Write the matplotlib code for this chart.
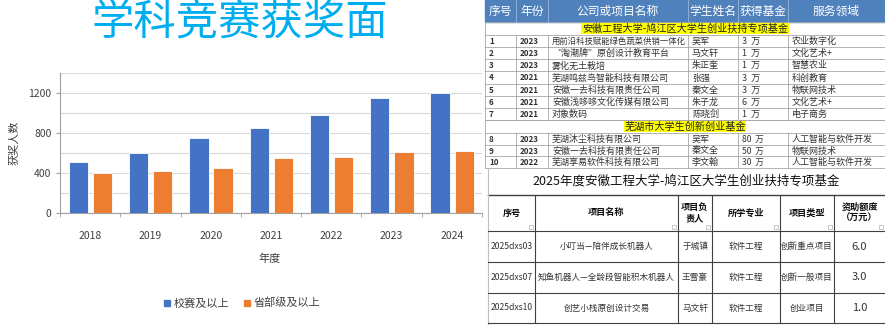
import matplotlib
matplotlib.use("Agg")
import matplotlib.pyplot as plt
from matplotlib.patches import Rectangle
import numpy as np

plt.rcParams['font.family'] = ['Noto Sans CJK SC', 'DejaVu Sans']

# ---------------- data ----------------
years = ['2018', '2019', '2020', '2021', '2022', '2023', '2024']
school_level = [510, 600, 750, 850, 980, 1150, 1200]
provincial_level = [400, 420, 450, 550, 560, 610, 620]
series_names = ['校赛及以上', '省部级及以上']

table1_header = ['序号', '年份', '公司或项目名称', '学生姓名', '获得基金', '服务领域']
table1_section1 = '安徽工程大学-鸠江区大学生创业扶持专项基金'
table1_rows1 = [
    ['1', '2023', '用前沿科技赋能绿色蔬菜供销一体化', '吴军', '3  万', '农业数字化'],
    ['2', '2023', '“淘潮牌”原创设计教育平台', '马文轩', '1  万', '文化艺术+'],
    ['3', '2023', '雾化无土栽培', '朱正奎', '1  万', '智慧农业'],
    ['4', '2021', '芜湖鸣兹鸟智能科技有限公司', '张强', '3  万', '科创教育'],
    ['5', '2021', '安徽一去科技有限责任公司', '秦文全', '3  万', '物联网技术'],
    ['6', '2021', '安徽浅哆哆文化传媒有限公司', '朱子龙', '6  万', '文化艺术+'],
    ['7', '2021', '对象数码', '陈晓剑', '1  万', '电子商务'],
]
table1_section2 = '芜湖市大学生创新创业基金'
table1_rows2 = [
    ['8', '2023', '芜湖沐尘科技有限公司', '吴军', '80  万', '人工智能与软件开发'],
    ['9', '2023', '安徽一去科技有限责任公司', '秦文全', '50  万', '物联网技术'],
    ['10', '2022', '芜湖享易软件科技有限公司', '李文翰', '30  万', '人工智能与软件开发'],
]

table2_title = '2025年度安徽工程大学-鸠江区大学生创业扶持专项基金'
table2_header = ['序号', '项目名称', '项目负\n责人', '所学专业', '项目类型', '资助额度\n（万元）']
table2_rows = [
    ['2025dxs03', '小叮当—陪伴成长机器人', '于城镇', '软件工程', '创新重点项目', '6.0'],
    ['2025dxs07', '知鱼机器人—全龄段智能积木机器人', '王雪豪', '软件工程', '创新一般项目', '3.0'],
    ['2025dxs10', '创艺小栈原创设计交易', '马文轩', '软件工程', '创业项目', '1.0'],
]

# ---------------- figure ----------------
W, H = 885, 325
fig = plt.figure(figsize=(W / 100, H / 100), dpi=100)
fig.patch.set_facecolor('white')

def fx(px):
    return px / W

def fy(py):
    return 1 - py / H

# bar chart axes
ax = fig.add_axes([fx(60), fy(213), fx(482) - fx(60), fy(73) - fy(213)])
x = np.arange(len(years))
bw = 0.32
ax.bar(x - 0.195, school_level, bw, color='#4472C4', edgecolor='white', linewidth=0.6, zorder=3)
ax.bar(x + 0.205, provincial_level, bw, color='#ED7D31', edgecolor='white', linewidth=0.6, zorder=3)
ax.set_xlim(-0.5, len(years) - 0.5)
ax.set_ylim(0, 1400)
ax.set_yticks([0, 400, 800, 1200])
ax.set_yticks(np.arange(0, 1401, 200), minor=True)
ax.grid(axis='y', which='both', color='#D9D9D9', linewidth=0.8, zorder=0)
ax.set_xticks(x)
ax.set_xticklabels(years, fontsize=7.5, color='#404040')
ax.tick_params(axis='x', length=0, pad=13)
ax.tick_params(axis='y', which='major', length=3, color='#A0A0A0', labelsize=7.5, labelcolor='#404040', pad=3)
ax.tick_params(axis='y', which='minor', length=0)
ax.set_xticks(np.arange(-0.5, len(years) + 0.5, 1.0), minor=True)
ax.tick_params(axis='x', which='minor', length=3, color='#A0A0A0')
for s in ['top', 'right']:
    ax.spines[s].set_visible(False)
ax.spines['left'].set_color('#A0A0A0')
ax.spines['bottom'].set_color('#A0A0A0')
ax.set_facecolor('white')

fig.text(fx(240), fy(22), '学科竞赛获奖面', fontsize=30.5, color='#00AEEF', ha='center', va='center')
fig.text(fx(14), fy(143), '获奖人数', fontsize=8, color='#404040', rotation=90, ha='center', va='center')
fig.text(fx(270), fy(259), '年度', fontsize=8, color='#404040', ha='center', va='center')

# legend
fig.patches.append(Rectangle((fx(164), fy(306)), fx(6), fy(300) - fy(306), transform=fig.transFigure,
                             color='#4472C4', figure=fig))
fig.text(fx(174), fy(303), series_names[0], fontsize=8, color='#404040', ha='left', va='center')
fig.patches.append(Rectangle((fx(244), fy(306)), fx(6), fy(300) - fy(306), transform=fig.transFigure,
                             color='#ED7D31', figure=fig))
fig.text(fx(254), fy(303), series_names[1], fontsize=8, color='#404040', ha='left', va='center')

# ---------------- tables overlay ----------------
ov = fig.add_axes([0, 0, 1, 1])
ov.set_xlim(0, W)
ov.set_ylim(H, 0)
ov.axis('off')
ov.patch.set_visible(False)

# table 1
c1 = [485, 516, 548, 688, 738, 788, 885]
hdr_top, hdr_bot = 0, 22
ov.add_patch(Rectangle((c1[0], hdr_top), c1[-1] - c1[0], hdr_bot - hdr_top, color='#4F81BD', zorder=2))
for i, h in enumerate(table1_header):
    ov.text((c1[i] + c1[i + 1]) / 2, (hdr_top + hdr_bot) / 2, h, color='white', fontsize=8.5,
            ha='center', va='center', zorder=4)
for xc in c1[1:-1]:
    ov.plot([xc, xc], [hdr_top, hdr_bot], color='#9DB6DB', lw=0.6, zorder=3)

line_col = '#A6A6A6'

def section(y0, y1, text):
    ov.plot([c1[0], c1[-1]], [y0, y0], color=line_col, lw=0.6)
    ov.plot([c1[0], c1[0]], [y0, y1], color=line_col, lw=0.6)
    ov.text((c1[0] + c1[-1]) / 2, (y0 + y1) / 2, text, fontsize=7.3, color='#222222', ha='center',
            va='center', bbox=dict(boxstyle='square,pad=0.05', fc='#FFFF00', ec='none'))

def rows(y0, y1, data):
    n = len(data)
    hs = (y1 - y0) / n
    for r, row in enumerate(data):
        ya = y0 + r * hs
        yb = ya + hs
        ov.plot([c1[0], c1[-1]], [ya, ya], color=line_col, lw=0.6)
        for xc in c1[:-1]:
            ov.plot([xc, xc], [ya, yb], color=line_col, lw=0.6)
        for i, val in enumerate(row):
            if i < 2:
                fs = 5.8
            else:
                avail = c1[i + 1] - c1[i] - 7
                fs = min(6.5, avail / (len(val) * 1.389))
            ov.text(c1[i] + 4, (ya + yb) / 2 + 0.5, val, fontsize=fs, color='#333333', ha='left',
                    va='center', fontweight='bold' if i < 2 else 'normal')
    ov.plot([c1[0], c1[-1]], [y1, y1], color=line_col, lw=0.6)

section(22, 35, table1_section1)
rows(35, 120, table1_rows1)
section(120, 133, table1_section2)
rows(133, 168, table1_rows2)

# table 2
c2 = [488, 535, 678, 712, 780, 834, 885]
t_top, t_title_bot, t_hdr_bot = 168, 195, 231
ov.add_patch(Rectangle((c2[0], t_top), c2[-1] - c2[0], H - t_top, color='white', zorder=1))
dark = '#404040'
ov.text((c2[0] + c2[-1]) / 2, (t_top + t_title_bot) / 2, table2_title, fontsize=9.0, color='#111111',
        ha='center', va='center', zorder=4)
ov.plot([c2[0], c2[-1]], [t_title_bot, t_title_bot], color=dark, lw=1.0, zorder=3)
ov.plot([c2[0], c2[0]], [t_top, H], color='#BFBFBF', lw=0.8, zorder=3)
row_edges = [t_hdr_bot, 262, 293, 323]
for xc in c2[1:-1]:
    ov.plot([xc, xc], [t_title_bot, 323], color=dark, lw=0.8, zorder=3)
for ye in row_edges:
    ov.plot([c2[0], c2[-1]], [ye, ye], color=dark, lw=0.8, zorder=3)
for i, h in enumerate(table2_header):
    ov.text((c2[i] + c2[i + 1]) / 2, (t_title_bot + t_hdr_bot) / 2, h, fontsize=6.6, color='#111111',
            fontweight='bold', ha='center', va='center', linespacing=1.3, zorder=4)
    ov.add_patch(Rectangle((c2[i + 1] - 6, t_hdr_bot - 6), 4, 4, fc='white', ec='#A0A0A0', lw=0.4, zorder=4))
for r, row in enumerate(table2_rows):
    ya, yb = row_edges[r], row_edges[r + 1]
    for i, val in enumerate(row):
        fs = 8.0 if i == 5 else 6.2
        ov.text((c2[i] + c2[i + 1]) / 2, (ya + yb) / 2, val, fontsize=fs, color='#333333',
                ha='center', va='center', zorder=4)

fig.savefig('out.png', dpi=100, facecolor='white')
